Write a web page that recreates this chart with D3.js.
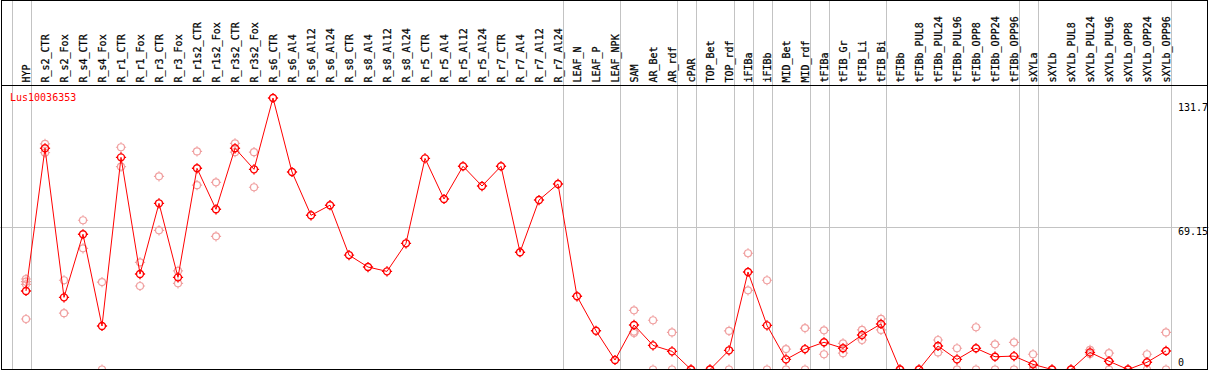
<!DOCTYPE html>
<html>
<head>
<meta charset="utf-8">
<style type="text/css">
    body { margin: 0; background: #fff; }
    svg { display: block; }
    text { font-family: "DejaVu Sans Mono", monospace; font-size: 10px; }
</style>
</head>
<body>
<svg width="1209" height="370"></svg>
<script src="https://cdn.jsdelivr.net/npm/d3@7/dist/d3.min.js"></script>
<script type="text/javascript">

    // gene name shown in the corner
    let geneName = "Lus10036353";

    // sample names (columns)
    let samples = ["HYP", "R_s2_CTR", "R_s2_Fox", "R_s4_CTR", "R_s4_Fox", "R_r1_CTR", "R_r1_Fox",
        "R_r3_CTR", "R_r3_Fox", "R_r1s2_CTR", "R_r1s2_Fox", "R_r3s2_CTR", "R_r3s2_Fox",
        "R_s6_CTR", "R_s6_Al4", "R_s6_Al12", "R_s6_Al24", "R_s8_CTR", "R_s8_Al4", "R_s8_Al12",
        "R_s8_Al24", "R_r5_CTR", "R_r5_Al4", "R_r5_Al12", "R_r5_Al24", "R_r7_CTR", "R_r7_Al4",
        "R_r7_Al12", "R_r7_Al24", "LEAF_N", "LEAF_P", "LEAF_NPK", "SAM", "AR_Bet", "AR_rdf",
        "cPAR", "TOP_Bet", "TOP_rdf", "iFIBa", "iFIBb", "MID_Bet", "MID_rdf", "tFIBa",
        "tFIB_Gr", "tFIB_Li", "tFIB_Bi", "tFIBb", "tFIBb_PUL8", "tFIBb_PUL24", "tFIBb_PUL96",
        "tFIBb_OPP8", "tFIBb_OPP24", "tFIBb_OPP96", "sXYLa", "sXYLb", "sXYLb_PUL8",
        "sXYLb_PUL24", "sXYLb_PUL96", "sXYLb_OPP8", "sXYLb_OPP24", "sXYLb_OPP96"];

    // mean expression per sample (red line)
    let meanValues = [38.1, 107.3, 35.0, 65.6, 21.1, 102.9, 46.3, 80.6, 44.7, 97.6, 77.7, 107.3, 97.1,
        131.7, 95.8, 74.8, 79.7, 55.5, 49.7, 47.6, 61.2, 102.4, 82.7, 98.6, 89.0, 98.6, 56.9,
        82.2, 90.0, 35.5, 18.8, 4.6, 21.6, 11.7, 8.8, 0, 0, 9.3, 47.3, 21.4, 4.9, 9.9, 13.2,
        10.3, 16.7, 22.1, 0, 0, 11.4, 4.9, 10.3, 6.2, 6.5, 2.5, 0, 0, 8.3, 4.0, 0, 3.5, 9.0];

    // single replicates per sample (pink circles)
    let replicateValues = [
        [43.9, 42.6, 41.3, 24.5], [109.4, 105.2], [43.3, 27.3], [72.4, 58.8], [42.4, 0],
        [107.8, 98.4], [52.0, 40.5], [93.7, 67.5], [47.8, 41.8], [105.8, 89.4], [90.8, 64.6],
        [109.7, 105.4], [105.4, 88.4],
        [], [], [], [], [], [], [], [], [], [], [], [], [], [], [], [], [], [], [],
        [28.7, 18.4, 17.7], [23.9, 0], [18.0, 0], [0, 0], [0, 0], [18.7, 0], [56.4, 38.4],
        [43.3, 0], [9.9, 0], [20.1, 0], [19.0, 7.4], [12.7, 7.9], [19.2, 14.3], [24.6, 19.2],
        [0, 0], [0, 0], [14.3, 8.3], [10.3, 0], [20.5, 0], [12.2, 0], [13.2, 0], [7.4, 0, 0],
        [0, 0], [0, 0], [9.5, 7.5], [7.9, 0], [0, 0], [7.4, 0], [18.0, 0]];

    // vertical separators are drawn after these samples
    let groupEnds = ["HYP", "R_r7_Al24", "LEAF_NPK", "AR_rdf", "cPAR", "TOP_rdf", "iFIBa",
        "iFIBb", "MID_rdf", "tFIBa", "tFIB_Bi", "tFIBb_OPP96", "sXYLa", "sXYLb_OPP96"];

    // values marked on the right
    let yTicks = [0, 69.15, 131.7];

    var svg = d3.select("svg"),
        width = +svg.attr("width"),
        height = +svg.attr("height");

    var x = d3.scalePoint().domain(samples).range([26, 1166]);
    var y = d3.scaleLinear().domain([0, 131.7]).range([369.5, 98]);

    var grey = "#c3c3c3";

    // grid: vertical separators
    var sepX = [x(samples[0]) - 14.5].concat(groupEnds.map(function(s) { return x(s) + 4.7; }));
    svg.selectAll("line.sep")
        .data(sepX)
        .enter().append("line")
        .attr("class", "sep")
        .attr("x1", function(d) { return Math.round(d) + 0.5; })
        .attr("x2", function(d) { return Math.round(d) + 0.5; })
        .attr("y1", 0).attr("y2", height)
        .attr("stroke", grey).attr("stroke-width", 1);

    // middle horizontal line
    svg.append("line")
        .attr("x1", 0).attr("x2", width)
        .attr("y1", Math.round(y(69.15)) + 0.5).attr("y2", Math.round(y(69.15)) + 0.5)
        .attr("stroke", grey).attr("stroke-width", 1);

    // sample labels, rotated
    svg.selectAll("text.sample")
        .data(samples)
        .enter().append("text")
        .attr("class", "sample")
        .attr("transform", function(d) { return "translate(" + Math.round(x(d) + 3.5) + ",82.5) rotate(-90)"; })
        .attr("fill", "#000")
        .attr("stroke", "#000")
        .attr("stroke-width", 0.25)
        .text(function(d) { return d; });

    // marker: circle with 4 little ticks
    function marker(r) {
        var t = r + 1.6;
        return "M" + (-r) + ",0a" + r + "," + r + " 0 1,0 " + (2 * r) + ",0a" + r + "," + r + " 0 1,0 " + (-2 * r) + ",0" +
            "M0," + (-r) + "V" + (-t) + "M0," + r + "V" + t +
            "M" + (-r) + ",0H" + (-t) + "M" + r + ",0H" + t;
    }

    // replicate points
    let repPoints = [];
    for (var i = 0; i < samples.length; i++) {
        replicateValues[i].forEach(function(v) { repPoints.push([samples[i], v]); });
    }
    svg.selectAll("path.rep")
        .data(repPoints)
        .enter().append("path")
        .attr("class", "rep")
        .attr("transform", function(d) { return "translate(" + x(d[0]) + "," + y(d[1]) + ")"; })
        .attr("d", marker(3.5))
        .attr("fill", "none")
        .attr("stroke", "#f0a0a0")
        .attr("stroke-width", 1.2);

    // mean line
    var line = d3.line()
        .x(function(d, i) { return x(samples[i]); })
        .y(function(d) { return y(d); });
    svg.append("path")
        .datum(meanValues)
        .attr("d", line)
        .attr("fill", "none")
        .attr("stroke", "#ff0000")
        .attr("stroke-width", 1);

    svg.selectAll("path.mean")
        .data(meanValues)
        .enter().append("path")
        .attr("class", "mean")
        .attr("transform", function(d, i) { return "translate(" + x(samples[i]) + "," + y(d) + ")"; })
        .attr("d", marker(3.5))
        .attr("fill", "none")
        .attr("stroke", "#ff0000")
        .attr("stroke-width", 1.4);

    // value labels on the right
    svg.selectAll("text.tick")
        .data(yTicks)
        .enter().append("text")
        .attr("class", "tick")
        .attr("x", 1178)
        .attr("y", function(d, i) {
            if (i == 0) return y(d) - 4;
            if (i == yTicks.length - 1) return y(d) + 13;
            return y(d) + 8.5;
        })
        .attr("fill", "#000")
        .text(function(d) { return d; });

    // gene name
    svg.append("text")
        .attr("x", 10).attr("y", 101)
        .attr("fill", "#ff0000")
        .text(geneName);

    // frame and header separator
    svg.append("rect")
        .attr("x", 1.5).attr("y", 0.5)
        .attr("width", 1206).attr("height", 369)
        .attr("fill", "none").attr("stroke", "#000").attr("stroke-width", 1);
    svg.append("line")
        .attr("x1", 1).attr("x2", 1208)
        .attr("y1", 85.5).attr("y2", 85.5)
        .attr("stroke", "#000").attr("stroke-width", 1);

</script>
</body>
</html>
